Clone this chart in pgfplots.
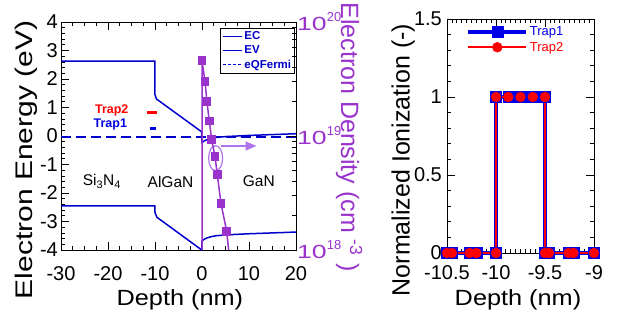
\documentclass[border=0pt]{standalone}
\usepackage{pgfplots}
\pgfplotsset{compat=1.18}
\usepackage{fontspec}
\setmainfont{Liberation Sans}
\usetikzlibrary{arrows.meta}
\usepackage{graphicx}
\newcommand{\fs}[1]{\fontsize{#1}{#1}\selectfont}
\definecolor{cblue}{RGB}{0,0,205}
\definecolor{cpurp}{RGB}{153,51,204}
\definecolor{clpurp}{RGB}{175,115,235}
\definecolor{tblue}{RGB}{0,0,230}
\definecolor{tred}{RGB}{255,0,0}
\pgfplotsset{
  mystyle/.style={scale only axis, tick align=inside,
    major tick length=8pt, minor tick length=4pt,
    axis line style={line width=0.9pt},
    every tick/.style={black, line width=0.8pt},
    every minor tick/.style={black, line width=0.7pt},
    /pgf/number format/assume math mode=true,
    tick label style={font=\fs{20}, inner sep=0pt}},
}
\begin{document}
\begin{tikzpicture}
\useasboundingbox (0pt,0pt) rectangle (618pt,324pt);
% ---------------- left panel: energies ----------------
\begin{axis}[mystyle, at={(61pt,74pt)}, anchor=south west,
  width=235pt, height=228pt,
  xmin=-30, xmax=20, ymin=-4, ymax=4,
  xtick={-30,-20,-10,0,10,20}, minor x tick num=3,
  ytick={-4,-3,-2,-1,0,1,2,3,4}, minor y tick num=4, ytick pos=left,
  xticklabel style={yshift=-16.5pt}, yticklabel style={xshift=-3pt},
  xlabel={\scalebox{1.15}[1]{Depth (nm)}},
  ylabel={\scalebox{1.25}[1]{Electron Energy (eV)}},
  every axis x label/.style={at={(axis description cs:0.506,-0.219)}, anchor=center, font=\fs{22}},
  every axis y label/.style={at={(axis description cs:-0.149,0.395)}, anchor=center, rotate=90, font=\fs{24}},
  legend cell align=left,
  legend image code/.code={\draw[#1] (0pt,0pt) -- (19pt,0pt);},
  legend style={at={(axis description cs:0.996,0.974)}, anchor=north east,
    draw=black, line width=0.8pt, fill=white, inner sep=2pt, row sep=1.5pt,
    font=\bfseries\fs{11.5}, nodes={inner sep=1.5pt}},
]
\addlegendimage{cblue, line width=1.5pt}
\addlegendentry{\textcolor{cblue}{EC}}
\addlegendimage{cblue, line width=1.5pt}
\addlegendentry{\textcolor{cblue}{EV}}
\addlegendimage{cblue, line width=1.5pt, dash pattern=on 3pt off 2pt}
\addlegendentry{\textcolor{cblue}{eQFermi}}
% EC
\addplot[cblue, line width=1.5pt, forget plot] coordinates {
 (-30,2.63) (-10,2.63) (-10,1.45) (-9.7,1.30) (-0.1,0.15)
 (0,-0.23) (0.5,-0.17) (1,-0.13) (2,-0.08) (3,-0.05) (5,-0.02) (10,0.02) (15,0.05) (20,0.08)};
% EV
\addplot[cblue, line width=1.5pt, forget plot] coordinates {
 (-30,-2.45) (-10,-2.45) (-10,-2.68) (-9.6,-2.85) (-0.05,-4.0)
 (0,-3.68) (0.5,-3.62) (1,-3.58) (2,-3.53) (3,-3.50) (5,-3.47) (10,-3.43) (15,-3.40) (20,-3.37)};
% quasi Fermi level
\addplot[cblue, line width=1.5pt, dash pattern=on 10pt off 5pt, forget plot] coordinates {(-30,-0.03) (20,-0.03)};
% trap levels
\addplot[tred, line width=2.5pt, forget plot] coordinates {(-11.7,0.82) (-9.6,0.82)};
\addplot[tblue, line width=2.5pt, forget plot] coordinates {(-11.1,0.27) (-9.8,0.27)};
\node[anchor=east, font=\bfseries\fs{12.5}, text=tred] at (axis cs:-14.9,0.91) {Trap2};
\node[anchor=east, font=\bfseries\fs{12.5}, text=tblue] at (axis cs:-15.2,0.39) {Trap1};
\node[font=\fs{15.5}] at (axis cs:-21.3,-1.6) {Si\textsubscript{3}N\textsubscript{4}};
\node[font=\fs{15.5}] at (axis cs:-6.7,-1.6) {AlGaN};
\node[font=\fs{15.5}] at (axis cs:12.1,-1.6) {GaN};
\draw[clpurp, line width=1.2pt] (axis cs:2.9,-0.78) ellipse [x radius=7pt, y radius=12.5pt];
\draw[clpurp, line width=1.5pt, -{Triangle[length=11pt,width=9pt]}] (axis cs:4.1,-0.35) -- (axis cs:11.6,-0.35);
\end{axis}
% ---------------- left panel: electron density (right axis) ----------------
\begin{axis}[mystyle, at={(61pt,74pt)}, anchor=south west,
  width=235pt, height=228pt,
  xmin=-30, xmax=20, ymode=log, ymin=1e18, ymax=1e20,
  hide x axis, axis y line*=right,
  ytick={1e18,1e19,1e20},
  yticklabels={{\scalebox{1.4}[1]{10}\raisebox{9pt}{\fs{13}18}},
               {\scalebox{1.4}[1]{10}\raisebox{9pt}{\fs{13}19}},
               {\scalebox{1.4}[1]{10}\raisebox{9pt}{\fs{13}20}}},
  yticklabel style={font=\fs{19}, text=cpurp, anchor=west, xshift=1pt},
  ylabel={Electron Density (cm \textsuperscript{-3} )},
  every axis y label/.style={at={(axis description cs:1.226,0.496)}, anchor=center, rotate=-90, font=\fs{25}, text=cpurp},
]
\addplot[cpurp, line width=1.5pt, mark=square*, mark size=3.6pt,
  mark indices={1,2,3,4,5,6,7,8,9}, mark options={solid, fill=cpurp}] coordinates {
 (0,1e16) (0,4.57e19) (0.64,3.02e19) (1.05,2.0e19) (1.55,1.35e19) (2.06,9.3e18)
 (2.77,6.6e18) (3.26,4.57e18) (4.04,2.57e18) (5.26,1.45e18) (5.9,8.1e17)};
\end{axis}
% ---------------- right panel ----------------
\begin{axis}[mystyle, at={(447pt,71pt)}, anchor=south west,
  width=147pt, height=234pt,
  xmin=-10.5, xmax=-9, ymin=0, ymax=1.5, clip=false,
  xtick={-10.5,-10,-9.5,-9}, minor x tick num=9,
  ytick={0,0.5,1,1.5}, minor y tick num=4,
  xticklabel style={yshift=-12pt}, yticklabel style={xshift=-5pt},
  xlabel={\scalebox{1.15}[1]{Depth (nm)}},
  ylabel={Normalized Ionization (-)},
  every axis x label/.style={at={(axis description cs:0.483,-0.201)}, anchor=center, font=\fs{22}},
  every axis y label/.style={at={(axis description cs:-0.299,0.397)}, anchor=center, rotate=90, font=\fs{25}},
  legend image code/.code={\draw[mark repeat=2, mark phase=2, #1] plot coordinates {(0pt,0pt) (29pt,0pt) (58pt,0pt)};},
  legend style={at={(axis description cs:0.13,0.975)}, anchor=north west,
    draw=none, fill=none, inner sep=0pt, row sep=2pt, font=\fs{13},
    nodes={inner sep=1.5pt}},
  legend cell align=left,
]
\addplot[tblue, line width=4pt, mark=square*, mark size=5.5pt, mark options={solid, fill=tblue, line width=0.5pt}] coordinates {
 (-10.5,0) (-10.45,0) (-10.27,0) (-10.2,0) (-10,0) (-10,1) (-9.875,1) (-9.75,1) (-9.625,1) (-9.5,1)
 (-9.5,0) (-9.46,0) (-9.26,0) (-9.21,0) (-9,0)};
\addlegendentry{\textcolor{tblue}{Trap1}}
\addplot[tred, line width=2pt, mark=*, mark size=4.9pt, mark options={solid, fill=tred, line width=0.5pt}] coordinates {
 (-10.5,0) (-10.45,0) (-10.27,0) (-10.2,0) (-10,0) (-10,1) (-9.875,1) (-9.75,1) (-9.625,1) (-9.5,1)
 (-9.5,0) (-9.46,0) (-9.26,0) (-9.21,0) (-9,0)};
\addlegendentry{\textcolor{tred}{Trap2}}
\end{axis}
\end{tikzpicture}
\end{document}
